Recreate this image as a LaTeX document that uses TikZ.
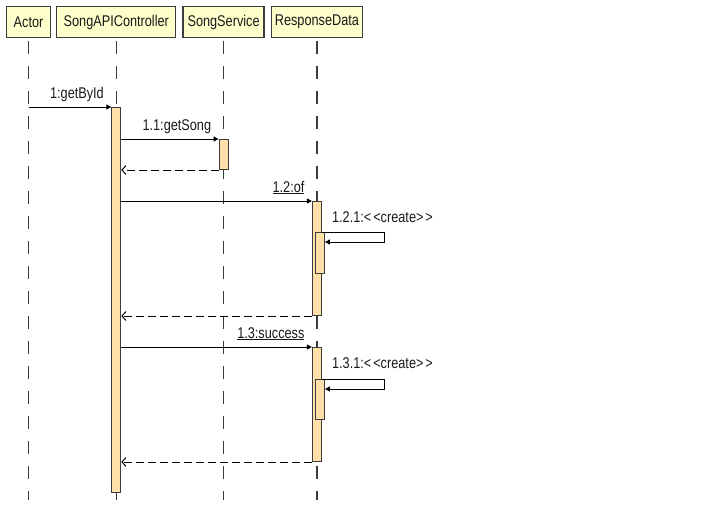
\documentclass[tikz,border=0pt]{standalone}
\usepackage{fontspec}
\setmainfont{Liberation Sans}[FakeStretch=0.82]
\usepackage{tikz}
\usetikzlibrary{arrows.meta}
\usetikzlibrary{positioning}
\definecolor{headfill}{RGB}{255,255,204}
\definecolor{actfill}{RGB}{255,224,168}
\definecolor{edge}{RGB}{60,60,60}
\definecolor{txt}{RGB}{25,25,25}

\begin{document}
\begin{tikzpicture}[x=1pt,y=-1pt,font=\fontsize{15.5}{17}\selectfont,text=txt,
    head/.style={draw=edge,fill=headfill,line width=1.3pt,minimum height=31pt,inner sep=0pt},
    act/.style={draw=edge,fill=actfill,line width=1pt,minimum width=9pt,inner sep=0pt,anchor=north},
    life/.style={draw=edge,line width=1.5pt,dash pattern=on 13pt off 12pt,dash phase=22pt},
    call/.style={-{Triangle[length=5pt,width=5pt]},line width=1pt},
    back/.style={-{Straight Barb[length=4pt,width=9pt]},line width=1pt,dash pattern=on 8pt off 4pt},
    lbl/.style={anchor=base east,inner sep=0pt,xshift=-7pt,yshift=9pt},
    self/.style={anchor=base west,inner sep=0pt,xshift=7pt,yshift=10pt}]
  \useasboundingbox (0,0) rectangle (704,507);
  % lifeline heads
  \node[head,minimum width=44pt,anchor=north] (actor) at (28.5,6) {Actor};
  \node[head,minimum width=119pt,right=5pt of actor] (ctrl) {SongAPIController};
  \node[head,minimum width=81pt,right=6pt of ctrl] (svc) {SongService};
  \node[head,minimum width=91pt,right=6pt of svc] (resp) {ResponseData};
  \coordinate (bot) at (0,500);
  \foreach \n in {actor,ctrl,svc,resp}
    \draw[life] (\n.south) -- (\n.south |- bot);
  % activations
  \node[act,minimum height=385pt] (c1) at (ctrl.south |- 0,107) {};
  \node[act,minimum height=30pt] (s1) at (svc.south |- 0,139) {};
  \node[act,minimum height=114pt] (r1) at (resp.south |- 0,201) {};
  \node[act,minimum height=41pt,xshift=3pt] (r2) at (resp.south |- 0,232) {};
  \node[act,minimum height=114pt] (r3) at (resp.south |- 0,347) {};
  \node[act,minimum height=40pt,xshift=3pt] (r4) at (resp.south |- 0,379) {};
  % messages
  \draw[call] (actor |- c1.north) -- (c1.north west) node[lbl] {1:getById};
  \draw[call] (c1.east |- s1.north) -- (s1.north west) node[lbl] {1.1:getSong};
  \draw[back] (s1.south west) -- (c1.east |- s1.south);
  \draw[call] (c1.east |- r1.north) -- (r1.north west) node[lbl] {\underline{1.2:of}};
  \draw[call] (r2.north -| r1.east) -- ++(63,0) |- ([yshift=-10pt]r2.north east);
  \node[self] at (r2.north east) {1.2.1:<\kern2pt<create>\kern2pt>};
  \draw[back] (r1.south west) -- (c1.east |- r1.south);
  \draw[call] (c1.east |- r3.north) -- (r3.north west) node[lbl] {\underline{1.3:success}};
  \draw[call] (r4.north -| r3.east) -- ++(63,0) |- ([yshift=-10pt]r4.north east);
  \node[self,yshift=1pt] at (r4.north east) {1.3.1:<\kern2pt<create>\kern2pt>};
  \draw[back] (r3.south west) -- (c1.east |- r3.south);
\end{tikzpicture}
\end{document}
